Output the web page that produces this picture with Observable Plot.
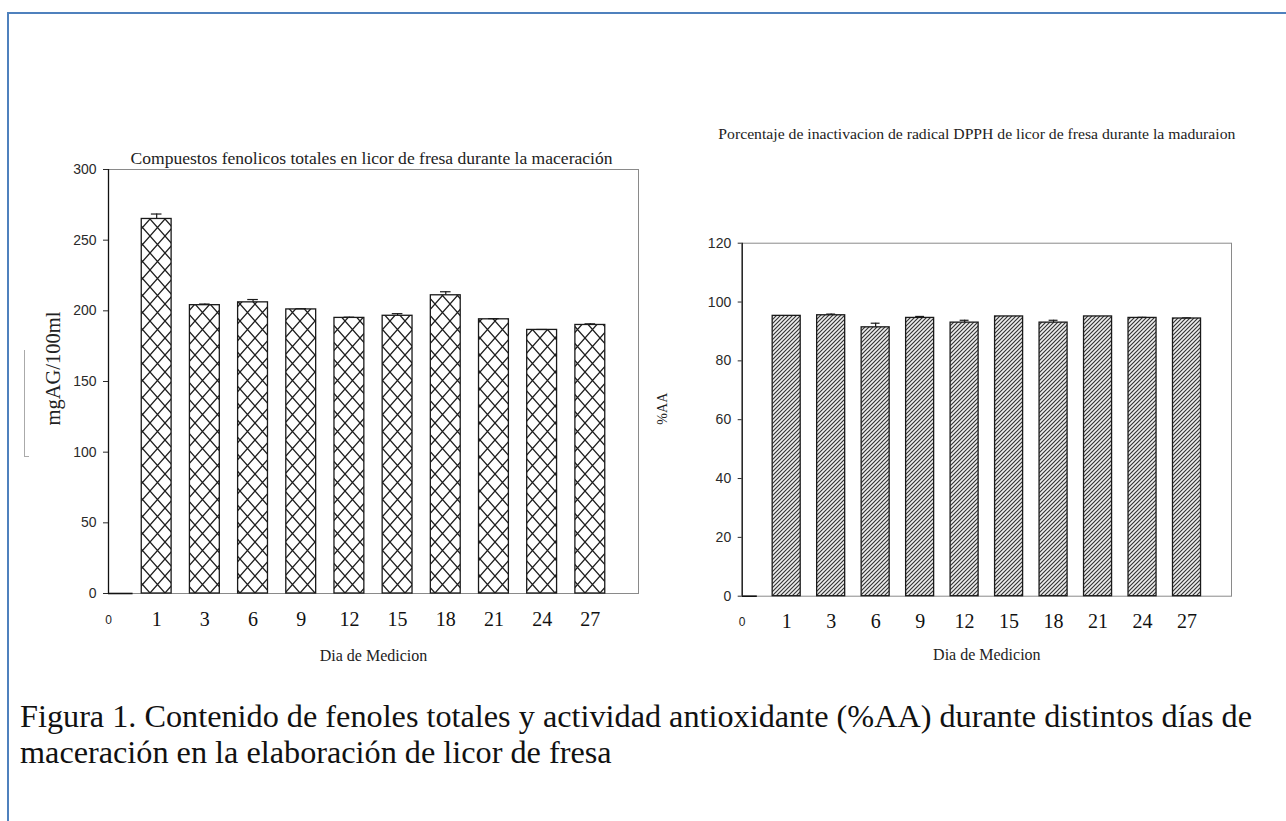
<!DOCTYPE html>
<html><head><meta charset="utf-8">
<script src="https://cdn.jsdelivr.net/npm/d3@7"></script>
<script src="https://cdn.jsdelivr.net/npm/@observablehq/plot@0.6"></script>
<style>
body{margin:0;background:#fff;width:1286px;height:821px;overflow:hidden;position:relative;font-family:"Liberation Serif",serif}
#box{position:absolute;left:7px;top:12px;width:1400px;height:1000px;border:2px solid #4f81bd;box-sizing:border-box}
#bracket{position:absolute;left:24px;top:350px;width:4px;height:106px;border-left:1px solid #aaa;border-bottom:1px solid #aaa}
#left{position:absolute;left:0;top:100px}
#right{position:absolute;left:660px;top:100px}
#caption{position:absolute;left:20px;top:699px;font-family:"Liberation Serif",serif;font-size:31px;line-height:36px;color:#111;white-space:nowrap;transform-origin:left top}
</style></head><body>
<div id="box"></div>
<div id="bracket"></div>
<div id="left"></div><div id="right"></div>
<div id="caption"><span id="cap1">Figura 1. Contenido de fenoles totales y actividad antioxidante (%AA) durante distintos días de</span><br><span>maceración en la elaboración de licor de fresa</span></div>
<script>
const days = ["1","3","6","9","12","15","18","21","24","27"];
const fenoles = [265, 204, 206, 201, 195, 196.5, 211, 194, 186.5, 190];
const fenolesErr = [3.5, 0.8, 2, 0.5, 0.5, 1.5, 2.5, 0.5, 0.3, 0.8];
const actividad = [95.3, 95.5, 91.4, 94.6, 93, 95.1, 93, 95.1, 94.6, 94.4];
const actividadErr = [0, 0.4, 1.4, 0.5, 0.8, 0, 0.8, 0, 0.2, 0.2];
const yTicksFen = [0, 50, 100, 150, 200, 250, 300];
const yTicksAA = [0, 20, 40, 60, 80, 100, 120];
const titleFen = "Compuestos fenolicos totales en licor de fresa durante la maceración";
const titleAA = "Porcentaje de inactivacion de radical DPPH de licor de fresa durante la maduraion";
const xLabel = "Dia de Medicion";

function chart(o) {
  const data = days.map((d, i) => ({day: d, idx: i + 1, v: o.values[i], e: o.errs[i]}));
  const withErr = data.filter(d => d.e > 0);
  const svg = Plot.plot({
    width: o.width, height: o.height,
    marginLeft: o.ml, marginRight: o.mr, marginTop: o.mt, marginBottom: o.mb,
    x: {domain: [0, 11], axis: null},
    y: {domain: o.yDomain, axis: null},
    style: {background: "transparent", overflow: "visible"},
    marks: [
      Plot.frame({stroke: "#8a8a8a", strokeWidth: 1}),
      Plot.rectY(data, {x1: d => d.idx - o.barHalf, x2: d => d.idx + o.barHalf, y1: 0, y2: "v",
        fill: `url(#${o.fillId})`, stroke: "#1a1a1a", strokeWidth: 1.3}),
      Plot.ruleX(withErr, {x: "idx", y1: "v", y2: d => d.v + d.e, stroke: "#1a1a1a", strokeWidth: 1.2}),
      Plot.ruleY(withErr, {y: d => d.v + d.e, x1: d => d.idx - o.capHalf, x2: d => d.idx + o.capHalf, stroke: "#1a1a1a", strokeWidth: 1.2}),
      Plot.ruleX([0], {stroke: "#111", strokeWidth: 1.3}),
      Plot.ruleY([0], {x1: 0, x2: o.stub, stroke: "#111", strokeWidth: 1.6}),
      Plot.axisY(o.yTicks, {tickSize: o.tickSize, tickPadding: o.tickPad, fontSize: 14, fontFamily: "Liberation Sans",
        color: "#2a2a2a", label: null}),
      Plot.text(data, {x: "idx", text: "day", frameAnchor: "bottom", dy: 32, fontSize: 20,
        fontFamily: "Liberation Serif", fill: "#111"}),
      Plot.text(["0"], {x: 0, frameAnchor: "bottom", dy: 30, fontSize: 12, fontFamily: "Liberation Sans", fill: "#222"}),
      Plot.text([xLabel], {frameAnchor: "bottom", dy: o.xlabDy, fontSize: 16, fontFamily: "Liberation Serif", fill: "#222"}),
      Plot.text([o.title], {frameAnchor: "top", dy: o.titleDy, dx: o.titleDx, fontSize: o.titleSize,
        fontFamily: "Liberation Serif", fill: "#222"}),
      Plot.text([o.ylabel], {frameAnchor: "left", textAnchor: "middle", rotate: -90, dx: o.ylabDx, dy: o.ylabDy,
        fontSize: o.ylabSize, fontFamily: "Liberation Serif", fill: "#222"})
    ]
  });
  d3.select(svg).insert("defs", ":first-child").html(o.defs);
  d3.select(svg).selectAll("text").filter(function() { return this.textContent === o.title; })
    .attr("textLength", o.titleWidth).attr("lengthAdjust", "spacingAndGlyphs");
  return svg;
}

const xhatch = `<pattern id="xhatch" patternUnits="userSpaceOnUse" width="15" height="17">
  <rect width="15" height="17" fill="#fff"/>
  <path d="M0,0L15,17M15,0L0,17" stroke="#1e1e1e" stroke-width="1.3" fill="none"/>
</pattern>`;
const dhatch = `<pattern id="dhatch" patternUnits="userSpaceOnUse" width="4" height="4">
  <rect width="4" height="4" fill="#eeeeee"/>
  <path d="M-1,1L1,-1M0,4L4,0M3,5L5,3" stroke="#333" stroke-width="1.15" fill="none"/>
</pattern>`;

document.getElementById("left").appendChild(chart({
  values: fenoles, errs: fenolesErr, yDomain: [0, 300], yTicks: yTicksFen,
  width: 660, height: 580, ml: 108, mr: 22, mt: 69, mb: 87,
  fillId: "xhatch", defs: xhatch, barHalf: 0.31, capHalf: 0.11, stub: 0.51,
  tickSize: 5, tickPad: 7, xlabDy: 67,
  title: titleFen, titleDy: -17, titleDx: -2, titleSize: 16, titleWidth: 482,
  ylabel: "mgAG/100ml", ylabDx: -55, ylabDy: -13, ylabSize: 20.5
}));

document.getElementById("right").appendChild(chart({
  values: actividad, errs: actividadErr, yDomain: [0, 120], yTicks: yTicksAA,
  width: 626, height: 580, ml: 81.7, mr: 55, mt: 142.7, mb: 84.3,
  fillId: "dhatch", defs: dhatch, barHalf: 0.315, capHalf: 0.1, stub: 0.34,
  tickSize: 4, tickPad: 7, xlabDy: 64,
  title: titleAA, titleDy: -114.7, titleDx: -10, titleSize: 15, titleWidth: 517,
  ylabel: "%AA", ylabDx: -80, ylabDy: -11, ylabSize: 14
}));

// fit caption first line width
const cap = document.getElementById("caption");
const w1 = document.getElementById("cap1").getBoundingClientRect().width;
if (w1 > 0) cap.style.transform = `scaleX(${1232 / w1})`;
</script>
</body></html>
